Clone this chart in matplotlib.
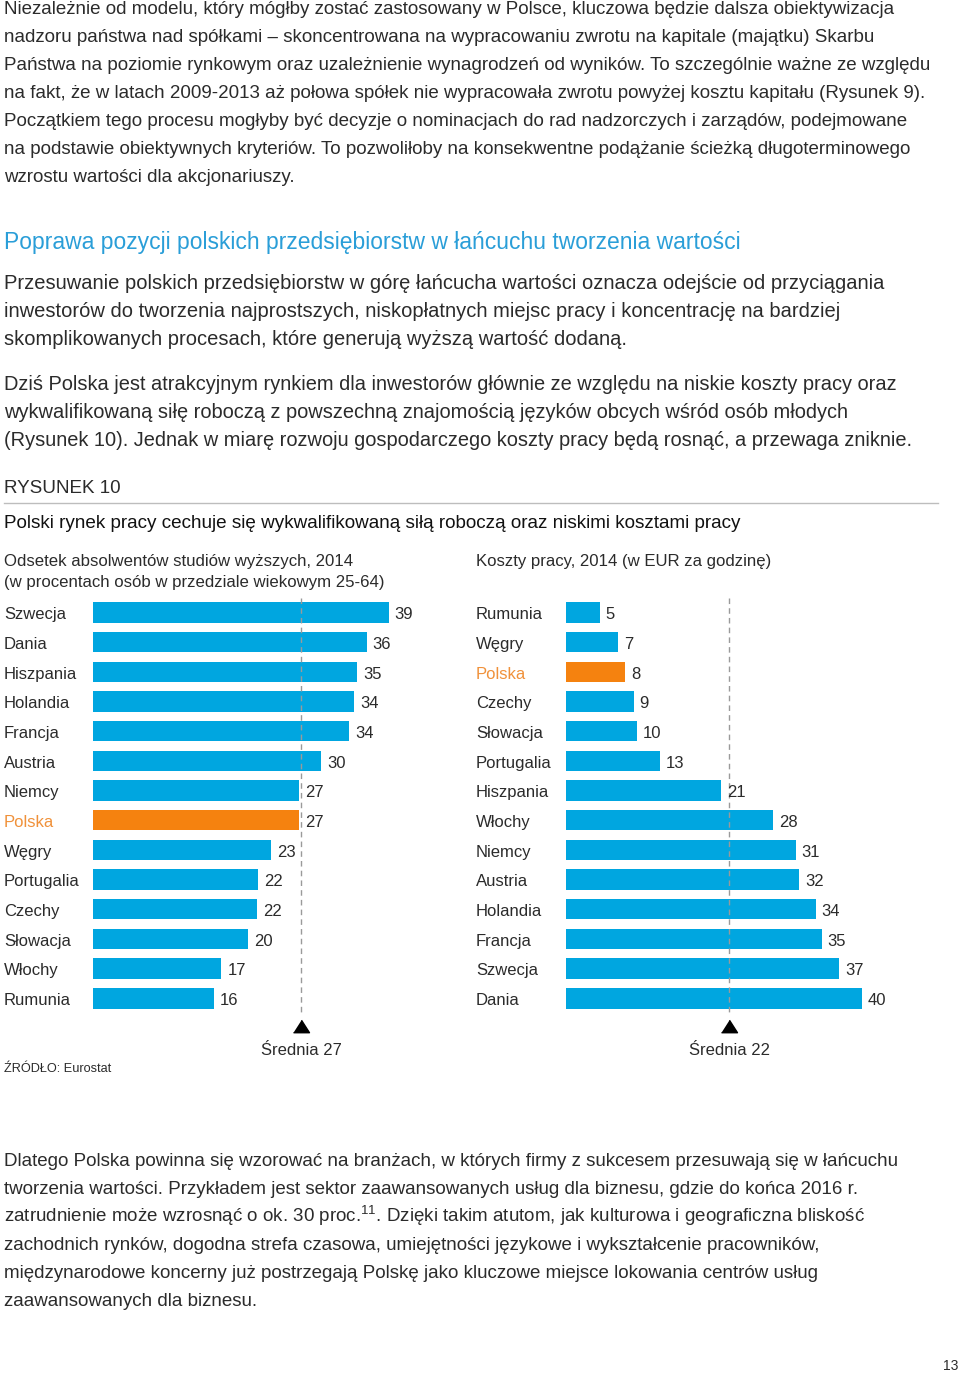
import matplotlib
matplotlib.use('Agg')
import matplotlib.pyplot as plt
import matplotlib.transforms as mtransforms

plt.rcParams['font.family'] = ['Liberation Sans', 'DejaVu Sans']

W, H = 960, 1374

# --- data ---
grad_countries = ['Szwecja', 'Dania', 'Hiszpania', 'Holandia', 'Francja', 'Austria', 'Niemcy',
                  'Polska', 'Węgry', 'Portugalia', 'Czechy', 'Słowacja', 'Włochy', 'Rumunia']
grad_values = [38.9, 36.0, 34.8, 34.4, 33.7, 30.0, 27.1, 27.1, 23.4, 21.7, 21.6, 20.4, 16.9, 15.9]
grad_avg = 27.4

cost_countries = ['Rumunia', 'Węgry', 'Polska', 'Czechy', 'Słowacja', 'Portugalia', 'Hiszpania',
                  'Włochy', 'Niemcy', 'Austria', 'Holandia', 'Francja', 'Szwecja', 'Dania']
cost_values = [4.6, 7.1, 8.1, 9.2, 9.6, 12.8, 21.0, 28.0, 31.1, 31.6, 33.8, 34.6, 37.0, 40.0]
cost_avg = 22.1

para1 = [
    'Niezależnie od modelu, który mógłby zostać zastosowany w Polsce, kluczowa będzie dalsza obiektywizacja',
    'nadzoru państwa nad spółkami – skoncentrowana na wypracowaniu zwrotu na kapitale (majątku) Skarbu',
    'Państwa na poziomie rynkowym oraz uzależnienie wynagrodzeń od wyników. To szczególnie ważne ze względu',
    'na fakt, że w latach 2009-2013 aż połowa spółek nie wypracowała zwrotu powyżej kosztu kapitału (Rysunek 9).',
    'Początkiem tego procesu mogłyby być decyzje o nominacjach do rad nadzorczych i zarządów, podejmowane',
    'na podstawie obiektywnych kryteriów. To pozwoliłoby na konsekwentne podążanie ścieżką długoterminowego',
    'wzrostu wartości dla akcjonariuszy.',
]
heading = 'Poprawa pozycji polskich przedsiębiorstw w łańcuchu tworzenia wartości'
para2 = [
    'Przesuwanie polskich przedsiębiorstw w górę łańcucha wartości oznacza odejście od przyciągania',
    'inwestorów do tworzenia najprostszych, niskopłatnych miejsc pracy i koncentrację na bardziej',
    'skomplikowanych procesach, które generują wyższą wartość dodaną.',
]
para3 = [
    'Dziś Polska jest atrakcyjnym rynkiem dla inwestorów głównie ze względu na niskie koszty pracy oraz',
    'wykwalifikowaną siłę roboczą z powszechną znajomością języków obcych wśród osób młodych',
    '(Rysunek 10). Jednak w miarę rozwoju gospodarczego koszty pracy będą rosnąć, a przewaga zniknie.',
]
para4 = [
    'Dlatego Polska powinna się wzorować na branżach, w których firmy z sukcesem przesuwają się w łańcuchu',
    'tworzenia wartości. Przykładem jest sektor zaawansowanych usług dla biznesu, gdzie do końca 2016 r.',
    r'zatrudnienie może wzrosnąć o ok. 30 proc.$^{\mathregular{11}}$. Dzięki takim atutom, jak kulturowa i geograficzna bliskość',
    'zachodnich rynków, dogodna strefa czasowa, umiejętności językowe i wykształcenie pracowników,',
    'międzynarodowe koncerny już postrzegają Polskę jako kluczowe miejsce lokowania centrów usług',
    'zaawansowanych dla biznesu.',
]

BLUE = '#00a6e0'
ORANGE = '#f5820f'
TXT = '#2b2b2b'

fig = plt.figure(figsize=(W / 100, H / 100), dpi=100)


def ptext(x, y, s, **kw):
    # place text using pixel coords (y from top), baseline aligned
    kw.setdefault('color', TXT)
    kw.setdefault('va', 'baseline')
    return fig.text(x / W, 1 - y / H, s, **kw)


def block(lines, y0, step=28, size=12.6):
    for i, s in enumerate(lines):
        ptext(4, y0 + i * step, s, fontsize=size)


block(para1, 14.5, size=13.5)
ptext(4, 249, heading, fontsize=16.5, color='#2a9ed8')
block(para2, 289, size=14.5)
block(para3, 390, size=14.4)
ptext(4, 493, 'RYSUNEK 10', fontsize=13.6)
fig.add_artist(plt.Line2D([4 / W, 938 / W], [1 - 503 / H, 1 - 503 / H], color='#bdbdbd', lw=1))
ptext(4, 528, 'Polski rynek pracy cechuje się wykwalifikowaną siłą roboczą oraz niskimi kosztami pracy',
      fontsize=13.6, color='#111111')
ptext(4, 566, 'Odsetek absolwentów studiów wyższych, 2014', fontsize=12.1)
ptext(4, 587, '(w procentach osób w przedziale wiekowym 25-64)', fontsize=12.1)
ptext(476, 566, 'Koszty pracy, 2014 (w EUR za godzinę)', fontsize=12.1)
ptext(4, 1072, 'ŹRÓDŁO: Eurostat', fontsize=9.2)
block(para4, 1166, size=13.5)
ptext(958, 1370, '13', fontsize=10, ha='right')

# --- charts ---
row0, step = 612.5, 29.68
top = row0 - 0.5 * step
bottom = row0 + 13.5 * step


def bar_panel(left_px, scale, label_x, countries, values, avg):
    xmax = 45
    ax = fig.add_axes([left_px / W, 1 - bottom / H, xmax * scale / W, (bottom - top) / H])
    ys = list(range(len(countries)))
    colors = [ORANGE if c == 'Polska' else BLUE for c in countries]
    ax.barh(ys, values, height=0.685, color=colors, zorder=2)
    ax.set_xlim(0, xmax)
    ax.set_ylim(13.5, -0.5)
    ax.axis('off')
    ax.vlines(avg, -0.5, 13.6, colors='#9a9a9a', linestyles=(0, (4, 3)), lw=1, zorder=3,
              clip_on=False)
    tri = [(-1, -0.78), (1, -0.78), (0, 0.78)]
    ax.plot([avg], [13.93], marker=tri, markersize=11.5, color='black', clip_on=False)
    ax.text(avg, 14.91, 'Średnia {:.0f}'.format(avg), ha='center', va='baseline',
            fontsize=12, color=TXT, clip_on=False)
    off = 6 / scale
    for y, v in zip(ys, values):
        ax.text(v + off, y + 0.23, '{:.0f}'.format(v), va='baseline', ha='left',
                fontsize=12, color=TXT)
    trans = mtransforms.blended_transform_factory(fig.transFigure, ax.transData)
    for y, c in zip(ys, countries):
        ax.text(label_x / W, y + 0.23, c, transform=trans, va='baseline', ha='left',
                fontsize=12, color='#f0913a' if c == 'Polska' else TXT)
    return ax


bar_panel(93, 7.6, 4, grad_countries, grad_values, grad_avg)
bar_panel(565.5, 7.4, 476, cost_countries, cost_values, cost_avg)

fig.savefig('out.png', dpi=100)
